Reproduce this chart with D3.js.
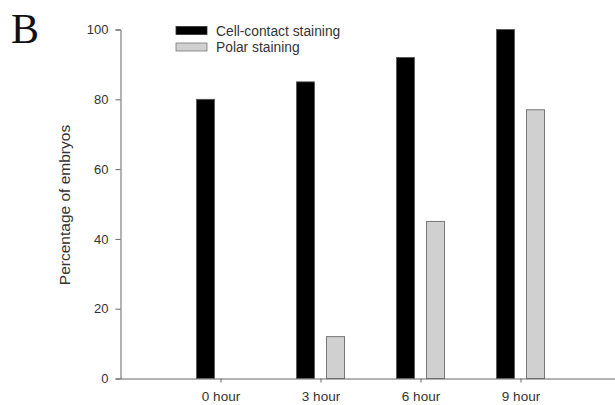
<!DOCTYPE html>
<html><head><meta charset="utf-8">
<script src="https://cdn.jsdelivr.net/npm/d3@7"></script>
<style>body{margin:0;background:#fff}</style>
</head><body>
<script>
const categories = ["0 hour", "3 hour", "6 hour", "9 hour"];
const cellContact = [80, 85, 92, 100];
const polar = [0, 12, 45, 77];
const yTicks = [0, 20, 40, 60, 80, 100];
const seriesNames = ["Cell-contact staining", "Polar staining"];

const W = 615, H = 405;
const svg = d3.select("body").append("svg").attr("width", W).attr("height", H)
  .style("font-family", "'Liberation Sans', Arial, sans-serif");

const x = d3.scaleLinear().domain([0, categories.length + 1]).range([120.5, 620.5]);
const y = d3.scaleLinear().domain([0, 100]).range([378.5, 29.5]);
const axisColor = "#666", textColor = "#333";

// bars
const barW = 0.18, gap = 0.06;
const g = svg.append("g");
g.selectAll("rect.cc").data(cellContact).join("rect")
  .attr("x", (d, i) => x(i + 1 - gap - barW))
  .attr("width", x(barW) - x(0))
  .attr("y", d => y(d)).attr("height", d => y(0) - y(d))
  .attr("fill", "#000").attr("stroke", "#555").attr("stroke-width", 0.8);
g.selectAll("rect.po").data(polar.map((v, i) => ({v, i})).filter(d => d.v > 0)).join("rect")
  .attr("x", d => x(d.i + 1 + gap))
  .attr("width", x(barW) - x(0))
  .attr("y", d => y(d.v)).attr("height", d => y(0) - y(d.v))
  .attr("fill", "#d0d0d0").attr("stroke", "#777").attr("stroke-width", 1);

// y axis
const ya = svg.append("g").attr("transform", `translate(${x(0)},0)`)
  .call(d3.axisLeft(y).tickValues(yTicks).tickSize(5).tickPadding(7).tickFormat(d3.format("d")));
ya.select(".domain").attr("stroke", axisColor);
ya.selectAll(".tick line").attr("stroke", axisColor);
ya.selectAll(".tick text").attr("fill", textColor).style("font-size", "13px")
  .style("font-family", "'Liberation Sans', Arial, sans-serif");

// x axis
const xa = svg.append("g").attr("transform", `translate(0,${y(0)})`)
  .call(d3.axisBottom(x).tickValues(d3.range(1, categories.length + 1)).tickSize(4).tickSizeOuter(0).tickPadding(9)
    .tickFormat(d => categories[d - 1]));
xa.select(".domain").attr("stroke", axisColor);
xa.selectAll(".tick line").attr("stroke", axisColor);
xa.selectAll(".tick text").attr("fill", textColor).style("font-size", "13.5px")
  .style("font-family", "'Liberation Sans', Arial, sans-serif");

// y label
svg.append("text").attr("transform", `translate(70,${(y(0) + y(100)) / 2 + 1}) rotate(-90)`)
  .attr("text-anchor", "middle").attr("fill", textColor).style("font-size", "15.5px")
  .text("Percentage of embryos");

// legend
const lg = svg.append("g");
const legendFill = ["#000", "#d0d0d0"], legendStroke = ["#333", "#777"];
seriesNames.forEach((name, i) => {
  lg.append("rect").attr("x", 176).attr("y", 26.5 + i * 16.5).attr("width", 31).attr("height", 8)
    .attr("fill", legendFill[i]).attr("stroke", legendStroke[i]).attr("stroke-width", 0.8);
  lg.append("text").attr("x", 216).attr("y", 35.5 + i * 16.5).attr("fill", textColor)
    .style("font-size", "13.8px").text(name);
});

// panel letter
svg.append("text").attr("x", 11).attr("y", 43).style("font-family", "'Liberation Serif', 'Times New Roman', serif")
  .style("font-size", "42px").attr("fill", "#111").text("B");
</script>
</body></html>
